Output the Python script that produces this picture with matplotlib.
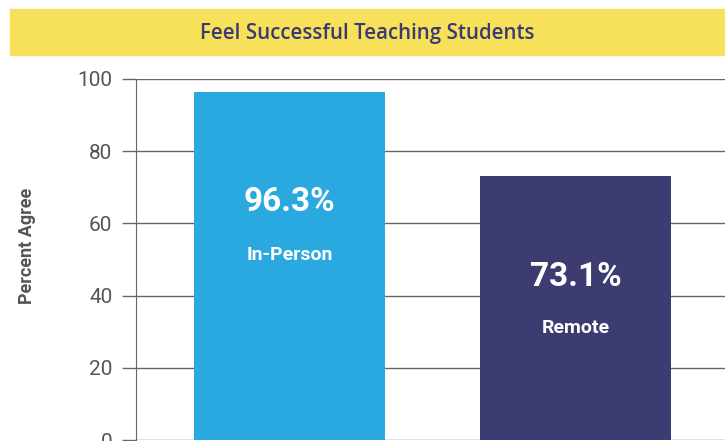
import matplotlib.pyplot as plt
from matplotlib.patches import Rectangle

# Feel successful teaching students, percent agree
categories = ['In-Person', 'Remote']
values = [96.3, 73.1]
bar_colors = ['#29a9e0', '#3c3c72']
y_ticks = [0, 20, 40, 60, 80, 100]

# where the white labels sit inside each bar (data units)
pct_label_y = [65.9, 45.2]
name_label_y = [51.2, 31.0]

plt.rcParams['font.family'] = ['Roboto', 'DejaVu Sans']

fig = plt.figure(figsize=(7.25, 4.41), dpi=100)

# yellow title banner
fig.patches.append(Rectangle((10 / 725, 1 - 55 / 441), 1 - 10 / 725, 46 / 441,
                             transform=fig.transFigure, color='#f7e05a', zorder=0))
fig.text(0.506, 1 - 33 / 441, 'Feel Successful Teaching Students', ha='center', va='center',
         fontsize=14.8, fontweight='semibold', color='#3b3a73', family=['Open Sans', 'DejaVu Sans'])

ax = fig.add_axes([136 / 725, 1 / 441, 1 - 136 / 725, 361 / 441])
x = list(range(len(categories)))
ax.bar(x, values, width=0.668, color=bar_colors, zorder=2)

for xi, v, name, py, ny in zip(x, values, categories, pct_label_y, name_label_y):
    ax.text(xi, py, f'{v:.1f}%', ha='center', va='center', color='white',
            fontsize=24, fontweight='bold', zorder=3)
    ax.text(xi, ny, name, ha='center', va='center', color='white',
            fontsize=14, fontweight='bold', zorder=3)

ax.set_xlim(-0.537, 1.523)
ax.set_ylim(0, 100)
ax.set_yticks(y_ticks)
ax.set_xticks([])
ax.grid(axis='y', color='#666666', linewidth=1, zorder=1)
ax.tick_params(axis='y', length=10, width=1, color='#666666', pad=7,
               labelsize=15, labelcolor='#555555')
for s in ['top', 'right', 'bottom']:
    ax.spines[s].set_visible(False)
ax.spines['left'].set_color('#666666')
ax.set_ylabel('Percent Agree', fontsize=13, fontweight='bold', color='#555555')
ax.yaxis.set_label_coords(-0.17, 0.537)

fig.savefig('out.png', dpi=100)
